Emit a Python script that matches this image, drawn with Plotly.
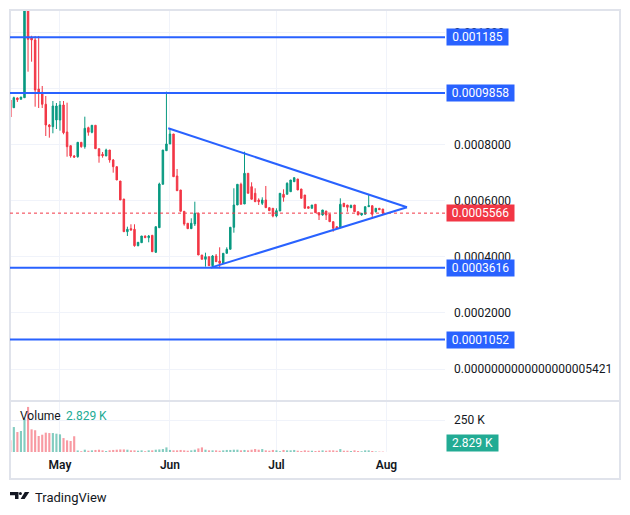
import pandas as pd
import plotly.graph_objects as go

# ---------------- data ----------------
dates = pd.date_range("2024-04-17", periods=106, freq="D")

opens = [0.0009607, 0.0009332, 0.0009679, 0.0009632, 0.0009689, 0.0013400, 0.0011832, 0.0011750, 0.0010000, 0.0009882,
         0.0009454, 0.0008714, 0.0008654, 0.0008893, 0.0008893, 0.0009429, 0.0008464, 0.0007975, 0.0007607, 0.0007582,
         0.0008096, 0.0007939, 0.0008618, 0.0008454, 0.0008704, 0.0007868, 0.0007668, 0.0007607, 0.0007821, 0.0007464,
         0.0007225, 0.0006714, 0.0006071, 0.0004904, 0.0005011, 0.0004989, 0.0004404, 0.0004511, 0.0004750, 0.0004689,
         0.0004775, 0.0004168, 0.0005046, 0.0006596, 0.0007796, 0.0008036, 0.0008393, 0.0006893, 0.0006393, 0.0005632,
         0.0005204, 0.0005011, 0.0005179, 0.0005561, 0.0004071, 0.0003918, 0.0004011, 0.0003689, 0.0004036, 0.0003857,
         0.0003775, 0.0004132, 0.0004275, 0.0005061, 0.0005857, 0.0006596, 0.0005893, 0.0006989, 0.0006511, 0.0006275,
         0.0006036, 0.0005918, 0.0006036, 0.0005761, 0.0005739, 0.0005464, 0.0005643, 0.0006239, 0.0006239, 0.0006332,
         0.0006689, 0.0006786, 0.0006429, 0.0006214, 0.0005796, 0.0005739, 0.0005882, 0.0005582, 0.0005500, 0.0005643,
         0.0005525, 0.0005261, 0.0005082, 0.0005046, 0.0005918, 0.0005857, 0.0005761, 0.0005857, 0.0005618, 0.0005500,
         0.0005525, 0.0005796, 0.0005832, 0.0005618, 0.0005739, 0.0005714]

highs = [0.0009643, 0.0009725, 0.0009696, 0.0009714, 0.0014200, 0.0014000, 0.0011900, 0.0011893, 0.0011893, 0.0010107,
         0.0009750, 0.0008750, 0.0009571, 0.0009500, 0.0009571, 0.0009571, 0.0009511, 0.0007975, 0.0007643, 0.0008096,
         0.0008096, 0.0009011, 0.0008654, 0.0008704, 0.0008704, 0.0007868, 0.0007750, 0.0007868, 0.0007821, 0.0007500,
         0.0007225, 0.0006714, 0.0006071, 0.0005082, 0.0005168, 0.0005168, 0.0004525, 0.0004750, 0.0004768, 0.0004786,
         0.0004775, 0.0005082, 0.0006654, 0.0007821, 0.0009904, 0.0008596, 0.0008393, 0.0007143, 0.0006393, 0.0005632,
         0.0005204, 0.0005382, 0.0005975, 0.0005561, 0.0004071, 0.0004154, 0.0004011, 0.0004071, 0.0004107, 0.0004346,
         0.0004132, 0.0004346, 0.0005061, 0.0006454, 0.0006596, 0.0006654, 0.0007761, 0.0006989, 0.0006668, 0.0006454,
         0.0006096, 0.0006132, 0.0006536, 0.0005761, 0.0005739, 0.0005739, 0.0006275, 0.0006418, 0.0006668, 0.0006750,
         0.0006846, 0.0006786, 0.0006429, 0.0006214, 0.0005796, 0.0005857, 0.0005882, 0.0005582, 0.0005679, 0.0005643,
         0.0005525, 0.0005261, 0.0005082, 0.0006096, 0.0005918, 0.0005857, 0.0005875, 0.0005857, 0.0005618, 0.0005571,
         0.0005796, 0.0006239, 0.0005832, 0.0005739, 0.0005750, 0.0005714]

lows = [0.0009000, 0.0009321, 0.0009536, 0.0009625, 0.0009679, 0.0010618, 0.0010975, 0.0009368, 0.0009321, 0.0009321,
        0.0008321, 0.0008261, 0.0008418, 0.0008571, 0.0008511, 0.0008382, 0.0007582, 0.0007546, 0.0007536, 0.0007546,
        0.0007904, 0.0007868, 0.0008332, 0.0008418, 0.0007868, 0.0007368, 0.0007546, 0.0007607, 0.0007368, 0.0007011,
        0.0006750, 0.0006036, 0.0004904, 0.0004750, 0.0004939, 0.0004368, 0.0004382, 0.0004500, 0.0004679, 0.0004525,
        0.0004189, 0.0004143, 0.0005046, 0.0006596, 0.0007796, 0.0008036, 0.0006868, 0.0006368, 0.0005632, 0.0005118,
        0.0005011, 0.0005011, 0.0005107, 0.0004071, 0.0003918, 0.0003654, 0.0003679, 0.0003632, 0.0003821, 0.0003596,
        0.0003750, 0.0004132, 0.0004275, 0.0004868, 0.0005857, 0.0005882, 0.0005893, 0.0006275, 0.0006061, 0.0005975,
        0.0005857, 0.0005857, 0.0005761, 0.0005654, 0.0005418, 0.0005418, 0.0005643, 0.0005975, 0.0006239, 0.0006332,
        0.0006689, 0.0006393, 0.0006096, 0.0005739, 0.0005739, 0.0005739, 0.0005582, 0.0005321, 0.0005475, 0.0005321,
        0.0005261, 0.0004904, 0.0005025, 0.0005046, 0.0005796, 0.0005618, 0.0005750, 0.0005618, 0.0005500, 0.0005475,
        0.0005525, 0.0005786, 0.0005382, 0.0005589, 0.0005679, 0.0005561]

closes = [0.0009000, 0.0009689, 0.0009618, 0.0009714, 0.0013400, 0.0011775, 0.0011750, 0.0009964, 0.0009846, 0.0009454,
          0.0008714, 0.0008654, 0.0009393, 0.0009393, 0.0009429, 0.0008439, 0.0007939, 0.0007607, 0.0007571, 0.0008096,
          0.0007939, 0.0008596, 0.0008454, 0.0008704, 0.0007868, 0.0007607, 0.0007618, 0.0007821, 0.0007464, 0.0007225,
          0.0006750, 0.0006036, 0.0004904, 0.0004989, 0.0004964, 0.0004404, 0.0004525, 0.0004750, 0.0004689, 0.0004750,
          0.0004189, 0.0005082, 0.0006607, 0.0007821, 0.0008036, 0.0008393, 0.0006868, 0.0006368, 0.0005632, 0.0005179,
          0.0005011, 0.0005204, 0.0005561, 0.0004071, 0.0003918, 0.0004011, 0.0003689, 0.0004036, 0.0003832, 0.0003775,
          0.0004132, 0.0004275, 0.0005061, 0.0005857, 0.0006596, 0.0005882, 0.0006989, 0.0006275, 0.0006061, 0.0005975,
          0.0005975, 0.0006036, 0.0005761, 0.0005654, 0.0005464, 0.0005654, 0.0006275, 0.0006132, 0.0006632, 0.0006750,
          0.0006832, 0.0006393, 0.0006096, 0.0005739, 0.0005739, 0.0005857, 0.0005582, 0.0005500, 0.0005679, 0.0005500,
          0.0005261, 0.0005025, 0.0005025, 0.0005882, 0.0005796, 0.0005775, 0.0005839, 0.0005618, 0.0005500, 0.0005561,
          0.0005796, 0.0005832, 0.0005525, 0.0005739, 0.0005689, 0.0005566]

volumes = [91000, 195000, 156000, 164000, 260000, 352000, 177000, 170000, 125000, 135000,
           151000, 148000, 148000, 143000, 138000, 109000, 91000, 86000, 123000, 12000,
           6000, 18000, 10000, 13000, 16000, 18000, 13000, 8000, 13000, 16000,
           18000, 20000, 20000, 18000, 13000, 13000, 10000, 13000, 6000, 13000,
           13000, 18000, 20000, 23000, 36000, 16000, 13000, 13000, 16000, 13000,
           10000, 13000, 18000, 28000, 36000, 18000, 13000, 13000, 13000, 10000,
           13000, 16000, 16000, 18000, 18000, 13000, 16000, 13000, 18000, 23000,
           18000, 23000, 13000, 10000, 16000, 13000, 6000, 16000, 13000, 13000,
           16000, 10000, 8000, 13000, 10000, 10000, 8000, 10000, 13000, 10000,
           13000, 13000, 10000, 23000, 10000, 10000, 8000, 13000, 8000, 6000,
           13000, 13000, 8000, 4000, 3000, 2829]

level_prices = [0.001185, 0.0009858, 0.0003616, 0.0001052]
level_texts = ["0.001185", "0.0009858", "0.0003616", "0.0001052"]
last_price = 0.0005566
last_price_text = "0.0005566"
last_volume_text = "2.829 K"

# triangle drawing: upper start, apex, lower start
tri_dates = ["2024-05-31 12:00", "2024-08-06 19:00", "2024-06-12 12:00"]
tri_prices = [0.000860, 0.0005775, 0.000362]

price_ticks = [0.0, 0.0002, 0.0004, 0.0006, 0.0008, 0.0010, 0.0012]
price_tick_text = ["0.0000000000000000005421", "0.0002000", "0.0004000", "0.0006000",
                   "0.0008000", "", "0.001200"]
vol_ticks = [250000]
vol_tick_text = ["250 K"]
month_ticks = ["2024-05-01", "2024-06-01", "2024-07-01", "2024-08-01"]
month_text = ["May", "Jun", "Jul", "Aug"]

# ---------------- style ----------------
UP = "#089981"
DOWN = "#f23645"
BLUE = "#2962ff"
GRID = "#f0f3fa"
BORDER = "#e0e3eb"
TXT = "#131722"
FONT = "Roboto"

OFF = 8                      # page body margin of the html page
W, H = 630 - OFF, 515 - OFF
ML, MT = 10 - OFF, 10 - OFF
MR, MB = 10, 36
PW, PH = W - ML - MR, H - MT - MB


def px_x(x):                 # page pixel -> paper fraction
    return (x - OFF - ML) / PW


def px_y(y):
    return (H - MB - (y - OFF)) / PH


X_END = px_x(445)
PRICE_BOTTOM = px_y(401)
VOL_BOTTOM = px_y(452)

vol_colors = ["rgba(8,153,129,0.5)" if c > o else "rgba(242,54,69,0.5)"
              for o, c in zip(opens, closes)]

fig = go.Figure()
fig.add_trace(go.Candlestick(
    x=dates, open=opens, high=highs, low=lows, close=closes,
    increasing=dict(line=dict(color=UP, width=1), fillcolor=UP),
    decreasing=dict(line=dict(color=DOWN, width=1), fillcolor=DOWN),
    whiskerwidth=0, xaxis="x", yaxis="y", hoverinfo="skip", showlegend=False,
))
fig.add_trace(go.Bar(
    x=dates, y=volumes, marker=dict(color=vol_colors, line=dict(width=0)),
    xaxis="x2", yaxis="y2", hoverinfo="skip", showlegend=False,
))

shapes = []
shapes.append(dict(type="rect", xref="paper", yref="paper", x0=0, x1=1, y0=0, y1=1,
                   line=dict(color=BORDER, width=2), layer="above"))
shapes.append(dict(type="line", xref="paper", yref="paper", x0=0, x1=1,
                   y0=PRICE_BOTTOM, y1=PRICE_BOTTOM, line=dict(color=BORDER, width=2)))
for p in level_prices:
    shapes.append(dict(type="line", xref="paper", yref="y", x0=0, x1=X_END, y0=p, y1=p,
                       line=dict(color=BLUE, width=2)))
shapes.append(dict(type="line", xref="paper", yref="y", x0=0, x1=X_END, y0=last_price, y1=last_price,
                   line=dict(color=DOWN, width=1, dash="dot")))
shapes.append(dict(type="line", xref="x", yref="y", x0=tri_dates[0], y0=tri_prices[0],
                   x1=tri_dates[1], y1=tri_prices[1], line=dict(color=BLUE, width=2)))
shapes.append(dict(type="line", xref="x", yref="y", x0=tri_dates[2], y0=tri_prices[2],
                   x1=tri_dates[1], y1=tri_prices[1], line=dict(color=BLUE, width=2)))


def path_px(pts):
    return "M " + " L ".join(f"{px_x(a):.5f},{px_y(b):.5f}" for a, b in pts) + " Z"


# TradingView logo (decoration)
shapes.append(dict(type="path", xref="paper", yref="paper",
                   path=path_px([(10, 492), (18.5, 492), (18.5, 499), (15, 499), (15, 495.3), (10, 495.3)]),
                   fillcolor=TXT, line=dict(width=0)))
shapes.append(dict(type="circle", xref="paper", yref="paper",
                   x0=px_x(18.9), x1=px_x(21.9), y0=px_y(492), y1=px_y(495),
                   fillcolor=TXT, line=dict(width=0)))
shapes.append(dict(type="path", xref="paper", yref="paper",
                   path=path_px([(24.8, 492), (29.3, 492), (24.6, 499), (20.6, 499)]),
                   fillcolor=TXT, line=dict(width=0)))

annotations = []
label_widths = [61, 67, 67, 67]
for p, t, wdt in zip(level_prices, level_texts, label_widths):
    annotations.append(dict(x=px_x(446), xref="paper", y=p, yref="y", xanchor="left", yanchor="middle",
                            text=t, showarrow=False, bgcolor=BLUE, borderpad=0, width=wdt, height=16,
                            font=dict(color="white", size=12, family=FONT)))
annotations.append(dict(x=px_x(446), xref="paper", y=last_price, yref="y", xanchor="left", yanchor="middle",
                        text=last_price_text, showarrow=False, bgcolor=DOWN, borderpad=0, width=67, height=16,
                        font=dict(color="white", size=12, family=FONT)))
annotations.append(dict(x=px_x(446), xref="paper", y=0, yref="y2", xanchor="left", yanchor="bottom",
                        text=last_volume_text, showarrow=False, bgcolor="#22ab94", borderpad=0, width=51, height=16,
                        font=dict(color="white", size=12, family=FONT)))
annotations.append(dict(x=px_x(18), xref="paper", y=px_y(416), yref="paper", xanchor="left", yanchor="middle",
                        text="Volume", showarrow=False, font=dict(color=TXT, size=12, family=FONT)))
annotations.append(dict(x=px_x(64), xref="paper", y=px_y(416), yref="paper", xanchor="left", yanchor="middle",
                        text=last_volume_text, showarrow=False, font=dict(color="#22ab94", size=12, family=FONT)))
annotations.append(dict(x=px_x(33), xref="paper", y=px_y(497), yref="paper", xanchor="left", yanchor="middle",
                        text="TradingView", showarrow=False, font=dict(color=TXT, size=13, family=FONT)))

x_range = ["2024-04-16 22:00", "2024-08-17 12:00"]

fig.update_layout(
    width=W, height=H,
    margin=dict(l=ML, r=MR, t=MT, b=MB),
    paper_bgcolor="white", plot_bgcolor="white",
    font=dict(family=FONT, size=12, color=TXT),
    showlegend=False, bargap=0.4, boxgap=0.4,
    shapes=shapes, annotations=annotations,
    xaxis=dict(domain=[0, X_END], anchor="y", range=x_range, type="date",
               rangeslider=dict(visible=False), showticklabels=False,
               tickvals=month_ticks, showgrid=True, gridcolor=GRID, gridwidth=1,
               zeroline=False, showline=False, ticks=""),
    xaxis2=dict(domain=[0, X_END], anchor="y2", matches="x", type="date",
                tickvals=month_ticks, ticktext=month_text, showgrid=True, gridcolor=GRID,
                zeroline=False, showline=False, ticks="", ticklabelstandoff=4,
                tickfont=dict(size=12, color=TXT, family=FONT, weight=600)),
    yaxis=dict(domain=[PRICE_BOTTOM, 1], anchor="x", side="right",
               range=[-0.0001143, 0.0012821], tickvals=price_ticks, ticktext=price_tick_text,
               showgrid=True, gridcolor=GRID, zeroline=False, showline=False, ticks="",
               ticklabelstandoff=8, tickfont=dict(size=12, color=TXT, family=FONT)),
    yaxis2=dict(domain=[VOL_BOTTOM, PRICE_BOTTOM], anchor="x2", side="right",
                range=[0, 398400], tickvals=vol_ticks, ticktext=vol_tick_text,
                showgrid=True, gridcolor=GRID, zeroline=False, showline=False, ticks="",
                ticklabelstandoff=8, tickfont=dict(size=12, color=TXT, family=FONT)),
)

fig.write_html("out.html")
